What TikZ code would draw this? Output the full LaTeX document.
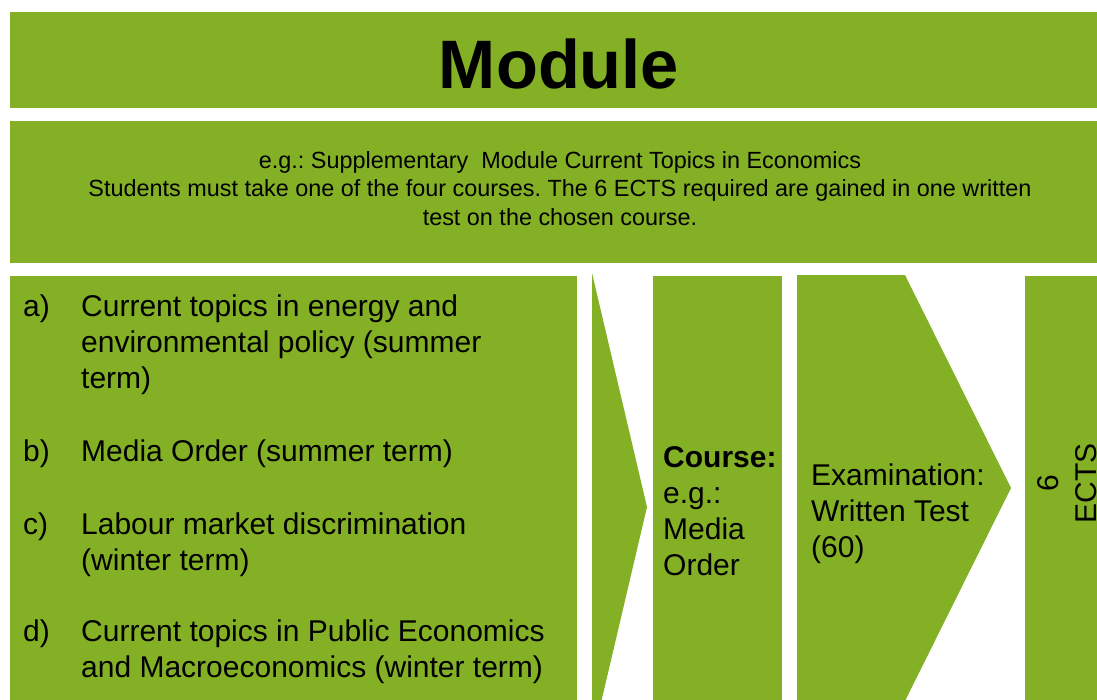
\documentclass[tikz,border=0pt]{standalone}
\usepackage{fontspec}
\setmainfont{Liberation Sans}
\usepackage{xcolor}
\usepackage{tikz}
\frenchspacing
\definecolor{leaf}{HTML}{84B026}
\definecolor{ink}{HTML}{000000}
\tikzset{
  panel/.style={fill=leaf, draw=none},
  head/.style={text=ink, font=\bfseries\fontsize{68.6}{82}\selectfont, inner sep=0pt},
  blurb/.style={text=ink, font=\fontsize{23.4}{28.5}\selectfont, align=center, inner sep=0pt},
  entry/.style={text=ink, font=\fontsize{30}{36}\selectfont, align=left, inner sep=0pt},
}

\begin{document}
\begin{tikzpicture}[x=1pt, y=-1pt]
  \useasboundingbox (0,0) rectangle (1097,699);
  \clip (0,0) rectangle (1097,699);

  % top bands
  \fill[panel] (10,12) rectangle (1110,108);
  \fill[panel] (10,121) rectangle (1110,263);

  % lower row
  \fill[panel] (10,276) rectangle (577,710);
  \fill[panel] (592,273) -- (647,507) -- (592,741) -- cycle;
  \fill[panel] (653,276) rectangle (782,710);
  \fill[panel] (797,275) -- (905,275) -- (1011,488) -- (905,701) -- (797,701) -- cycle;
  \fill[panel] (1025,276) rectangle (1110,710);

  % base of a multi-line node = baseline of its last line
  \node[head, anchor=base] (module) at (559,88) {Module};
  \node[blurb, anchor=base] (blurb) at (560,225)
    {e.g.: Supplementary\ \ Module Current Topics in Economics\\
     Students must take one of the four courses. The 6 ECTS required are gained in one written\\
     test on the chosen course.};

  \node[entry, anchor=base west] (tag-a) at (23,316) {a)};
  \node[entry, anchor=base west] (item-a) at (81,388)
    {Current topics in energy and\\environmental policy (summer\\term)};
  \node[entry, anchor=base west] (tag-b) at (23,461) {b)};
  \node[entry, anchor=base west] (item-b) at (81,461) {Media Order (summer term)};
  \node[entry, anchor=base west] (tag-c) at (23,534) {c)};
  \node[entry, anchor=base west] (item-c) at (81,570)
    {Labour market discrimination\\(winter term)};
  \node[entry, anchor=base west] (tag-d) at (23,641) {d)};
  \node[entry, anchor=base west] (item-d) at (81,677)
    {Current topics in Public Economics\\and Macroeconomics (winter term)};

  \node[entry, anchor=base west] (course) at (663,575)
    {\textbf{Course:}\\e.g.:\\Media\\Order};
  \node[entry, anchor=base west] (exam) at (811,557)
    {Examination:\\Written Test\\(60)};
  \node[entry, align=center, rotate=90, anchor=base] (ects) at (1096,483)
    {6\\[2pt]ECTS};
\end{tikzpicture}
\end{document}
